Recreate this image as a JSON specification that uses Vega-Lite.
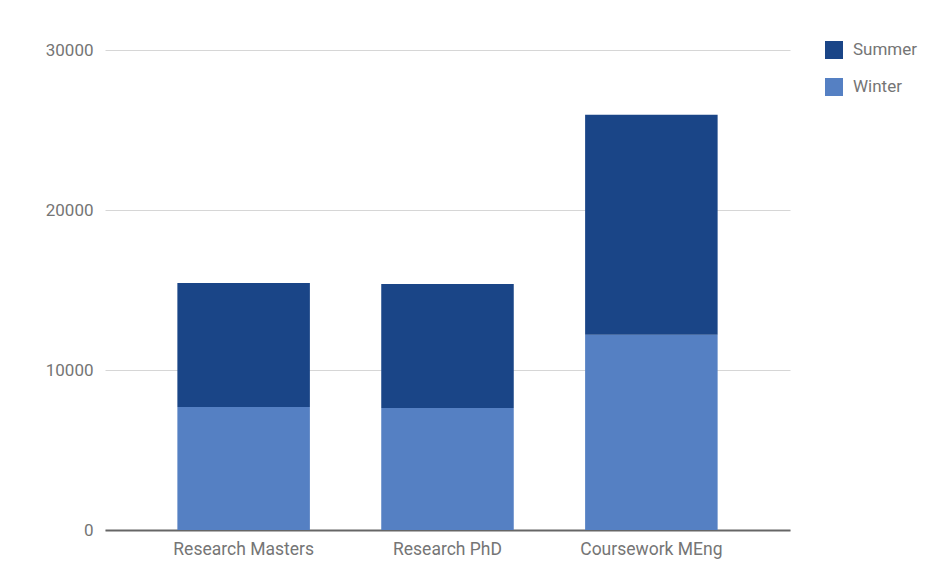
{
  "$schema": "https://vega.github.io/schema/vega-lite/v6.json",
  "autosize": {"type": "none"},
  "padding": {"left": 105, "top": 50, "right": 150, "bottom": 54},
  "width": 685,
  "height": 480,
  "background": "white",
  "config": {
    "view": {"stroke": null},
    "font": "Roboto"
  },
  "data": {
    "values": [
      {"program": "Research Masters", "season": "Winter", "value": 7690},
      {"program": "Research Masters", "season": "Summer", "value": 7750},
      {"program": "Research PhD", "season": "Winter", "value": 7625},
      {"program": "Research PhD", "season": "Summer", "value": 7750},
      {"program": "Coursework MEng", "season": "Winter", "value": 12200},
      {"program": "Coursework MEng", "season": "Summer", "value": 13750}
    ]
  },
  "mark": {"type": "bar"},
  "encoding": {
    "x": {
      "field": "program",
      "type": "nominal",
      "sort": ["Research Masters", "Research PhD", "Coursework MEng"],
      "scale": {"paddingInner": 0.35, "paddingOuter": 0.355},
      "axis": {
        "title": null,
        "labelAngle": 0,
        "ticks": false,
        "domainColor": "#666666",
        "domainWidth": 2,
        "labelColor": "#757575",
        "labelFontSize": 17.5,
        "labelPadding": 10,
        "grid": false
      }
    },
    "y": {
      "field": "value",
      "type": "quantitative",
      "aggregate": "sum",
      "stack": "zero",
      "scale": {"domain": [0, 30000], "nice": false},
      "axis": {
        "title": null,
        "values": [0, 10000, 20000, 30000],
        "format": "d",
        "ticks": false,
        "domain": false,
        "gridColor": "#d6d6d6",
        "gridWidth": 1,
        "labelColor": "#757575",
        "labelFontSize": 17,
        "labelPadding": 12
      }
    },
    "color": {
      "field": "season",
      "type": "nominal",
      "scale": {"domain": ["Summer", "Winter"], "range": ["#1a4587", "#5580c3"]},
      "legend": {
        "title": null,
        "orient": "none",
        "legendX": 720,
        "legendY": -9,
        "symbolType": "square",
        "symbolSize": 324,
        "symbolStrokeWidth": 0,
        "symbolOpacity": 1,
        "labelFontSize": 17,
        "labelColor": "#757575",
        "labelOffset": 10,
        "rowPadding": 19
      }
    },
    "order": {"field": "season", "sort": "descending"}
  }
}
